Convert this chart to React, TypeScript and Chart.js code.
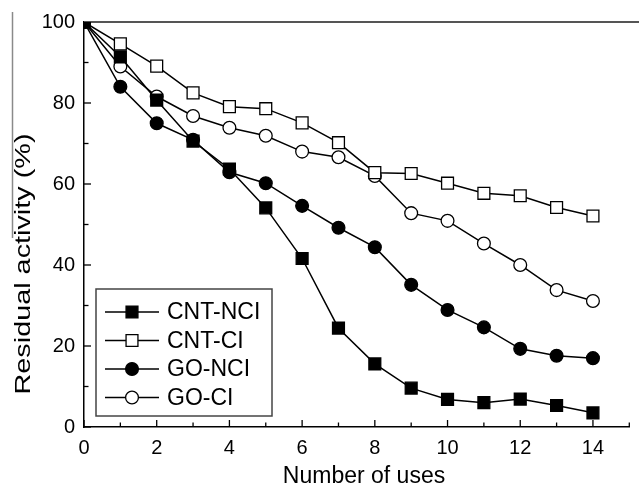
import React, { useEffect, useRef } from 'react';
import { Chart, registerables } from 'chart.js';

Chart.register(...registerables);

const uses = [0, 1, 2, 3, 4, 5, 6, 7, 8, 9, 10, 11, 12, 13, 14];
const cntNci = [100, 91.4, 80.7, 70.6, 63.7, 54.1, 41.6, 24.4, 15.6, 9.6, 6.8, 6.0, 6.9, 5.3, 3.5];
const cntCi = [100, 94.6, 89.1, 82.5, 79.1, 78.6, 75.1, 70.2, 62.8, 62.6, 60.2, 57.7, 57.1, 54.2, 52.1];
const goNci = [100, 84.0, 75.0, 70.9, 62.9, 60.2, 54.6, 49.2, 44.4, 35.1, 28.9, 24.6, 19.3, 17.6, 17.0];
const goCi = [100, 89.0, 81.6, 76.8, 73.9, 71.9, 68.0, 66.6, 62.0, 52.8, 50.9, 45.3, 40.0, 33.8, 31.1];
const seriesNames = ['CNT-NCI', 'CNT-CI', 'GO-NCI', 'GO-CI'];
const xTickLabels = ['0', '2', '4', '6', '8', '10', '12', '14'];
const yTickLabels = ['0', '20', '40', '60', '80', '100'];
const xTitle = 'Number of uses';
const yTitle = 'Residual activity (%)';

const FONT = '"Liberation Sans", Arial, Helvetica, sans-serif';

type Style = { shape: 'rect' | 'circle'; fill: string; radius: number };
const styles: Style[] = [
  { shape: 'rect', fill: '#000', radius: 8.4 },
  { shape: 'rect', fill: '#fff', radius: 8.4 },
  { shape: 'circle', fill: '#000', radius: 6.4 },
  { shape: 'circle', fill: '#fff', radius: 6.4 },
];

function drawMarker(ctx: CanvasRenderingContext2D, st: Style, x: number, y: number) {
  ctx.beginPath();
  if (st.shape === 'rect') {
    const h = st.radius * Math.SQRT1_2;
    ctx.rect(x - h, y - h, 2 * h, 2 * h);
  } else {
    ctx.arc(x, y, st.radius, 0, Math.PI * 2);
  }
  ctx.fillStyle = st.fill;
  ctx.fill();
  ctx.lineWidth = 1.3;
  ctx.strokeStyle = '#000';
  ctx.stroke();
}

const zeroPad = () => ({ top: 0, left: 0, right: 0, bottom: 0 });

const decor = {
  id: 'decor',
  beforeDatasetsDraw(chart: any) {
    const { ctx, chartArea: a, scales } = chart;
    const x = scales.x;
    const y = scales.y;
    ctx.save();
    ctx.strokeStyle = '#000';
    ctx.lineWidth = 1.3;
    for (let v = 0; v <= 15; v++) {
      const px = x.getPixelForValue(v);
      const len = v % 2 === 0 ? 7 : 4.5;
      ctx.beginPath();
      ctx.moveTo(px, a.bottom);
      ctx.lineTo(px, a.bottom - len);
      ctx.stroke();
    }
    for (let v = 0; v <= 100; v += 10) {
      const py = y.getPixelForValue(v);
      const len = v % 20 === 0 ? 7 : 4.5;
      ctx.beginPath();
      ctx.moveTo(a.left, py);
      ctx.lineTo(a.left + len, py);
      ctx.stroke();
    }
    ctx.strokeStyle = '#555';
    ctx.lineWidth = 2;
    ctx.beginPath();
    ctx.moveTo(a.left, a.top);
    ctx.lineTo(chart.width, a.top);
    ctx.stroke();
    ctx.restore();
  },
  afterDraw(chart: any) {
    const { ctx } = chart;
    ctx.save();
    // stray border line at the left edge
    ctx.strokeStyle = '#8a8a8a';
    ctx.lineWidth = 1.5;
    ctx.beginPath();
    ctx.moveTo(12.5, 12);
    ctx.lineTo(12.5, 238);
    ctx.stroke();

    // legend
    const lx = 96, ly = 289, lw = 176, lh = 127;
    ctx.strokeStyle = '#444';
    ctx.lineWidth = 1.5;
    ctx.strokeRect(lx, ly, lw, lh);
    ctx.font = `23px ${FONT}`;
    ctx.textAlign = 'left';
    ctx.textBaseline = 'middle';
    seriesNames.forEach((name, i) => {
      const ry = 312 + i * 28.5;
      ctx.strokeStyle = '#000';
      ctx.lineWidth = 1.5;
      ctx.beginPath();
      ctx.moveTo(105, ry);
      ctx.lineTo(159, ry);
      ctx.stroke();
      drawMarker(ctx, styles[i], 132, ry);
      ctx.fillStyle = '#000';
      ctx.fillText(name, 167, ry + 1);
    });

    // x title
    ctx.fillStyle = '#000';
    ctx.font = `23px ${FONT}`;
    ctx.textAlign = 'center';
    ctx.textBaseline = 'alphabetic';
    ctx.fillText(xTitle, 364, 483);

    // y title
    ctx.font = `22px ${FONT}`;
    const w = ctx.measureText(yTitle).width;
    ctx.translate(23, 264);
    ctx.rotate(-Math.PI / 2);
    ctx.scale(261 / w, 1);
    ctx.textBaseline = 'middle';
    ctx.textAlign = 'center';
    ctx.fillText(yTitle, 0, 1);
    ctx.restore();
  },
};

export default function App() {
  const ref = useRef<HTMLCanvasElement>(null);
  useEffect(() => {
    document.body.style.margin = '0';
    document.body.style.overflow = 'hidden';
    if (!ref.current) return;
    const series = [cntNci, cntCi, goNci, goCi];
    const chart = new Chart(ref.current, {
      type: 'line',
      data: {
        datasets: series.map((vals, i) => ({
          label: seriesNames[i],
          data: uses.map((u, j) => ({ x: u, y: vals[j] })),
          borderColor: '#000',
          borderWidth: 1.5,
          backgroundColor: styles[i].fill,
          pointStyle: styles[i].shape === 'rect' ? 'rect' : 'circle',
          pointRadius: styles[i].radius,
          pointBackgroundColor: styles[i].fill,
          pointBorderColor: '#000',
          pointBorderWidth: 1.3,
          tension: 0,
          fill: false,
        })),
      },
      options: {
        animation: false,
        responsive: false,
        maintainAspectRatio: false,
        devicePixelRatio: 1,
        layout: { padding: { top: 22, left: 0, right: 0, bottom: 0 } },
        plugins: { legend: { display: false }, tooltip: { enabled: false } },
        events: [],
        scales: {
          x: {
            type: 'linear',
            min: 0,
            max: 15,
            afterFit: (s: any) => {
              s.height = 58;
              s.paddingRight = 0;
              s.paddingLeft = 0;
              s.getPadding = zeroPad;
            },
            ticks: {
              stepSize: 1,
              autoSkip: false,
              maxRotation: 0,
              padding: 9,
              color: '#000',
              font: { family: FONT, size: 20 },
              callback: (v: any) => (xTickLabels.includes(String(v)) ? String(v) : ''),
            },
            grid: { display: true, drawOnChartArea: false, drawTicks: false },
            border: { display: true, color: '#000', width: 1.5 },
          },
          y: {
            type: 'linear',
            min: 0,
            max: 100,
            afterFit: (s: any) => {
              s.width = 84;
              s.paddingTop = 0;
              s.paddingBottom = 0;
              s.getPadding = zeroPad;
            },
            ticks: {
              stepSize: 10,
              autoSkip: false,
              padding: 9,
              color: '#000',
              font: { family: FONT, size: 20 },
              callback: (v: any) => (yTickLabels.includes(String(v)) ? String(v) : ''),
            },
            grid: { display: true, drawOnChartArea: false, drawTicks: false },
            border: { display: true, color: '#000', width: 1.5 },
          },
        },
      },
      plugins: [decor],
    });
    return () => chart.destroy();
  }, []);
  return (
    <div style={{ position: 'absolute', left: 0, top: 0, width: 639, height: 485, overflow: 'hidden', background: '#fff' }}>
      <canvas ref={ref} width={639} height={485} style={{ display: 'block', width: 639, height: 485 }} />
    </div>
  );
}
